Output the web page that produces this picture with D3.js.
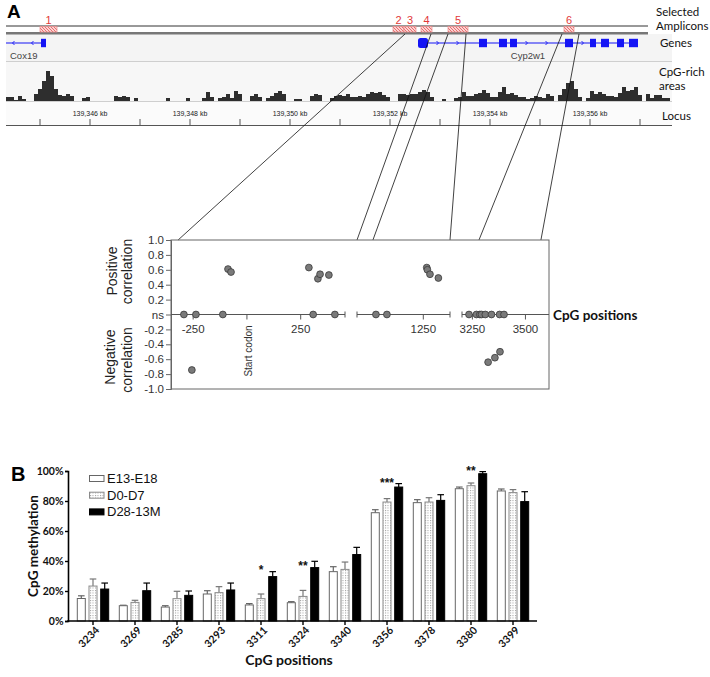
<!DOCTYPE html>
<html><head><meta charset="utf-8">
<script src="https://cdn.jsdelivr.net/npm/d3@7"></script>
<style>
body{margin:0;background:#fff}
svg{display:block;font-family:"Liberation Sans",Arial,sans-serif}
</style>
</head><body>
<svg id="c" width="710" height="677"></svg>
<script>
// ================= DATA =================
// Panel A – genome browser (positions in kb)
const locusTicksKb = [139345,139346,139347,139348,139349,139350,139351,139352,139353,139354,139355,139356,139357];
const locusLabelKb = [139346,139348,139350,139352,139354,139356];
const ampliconIds = ["1","2","3","4","5","6"];
const ampliconStart = [139345.00,139352.06,139352.28,139352.62,139353.16,139355.48];
const ampliconEnd   = [139345.34,139352.28,139352.52,139352.84,139353.56,139355.68];
const cox19Span = [139344.32,139345.04];
const cox19Exons = [[139345.02,139345.12]];
const cox19Arrows = [139344.46,139344.84];
const cyp2w1Span = [139352.56,139356.96];
const cyp2w1FirstExon = [139352.56,139352.76];
const cyp2w1Exons = [[139353.78,139353.94],[139354.18,139354.34],[139354.40,139354.54],[139355.50,139355.66],
                     [139356.00,139356.12],[139356.22,139356.38],[139356.54,139356.68],[139356.78,139356.96]];
const cyp2w1Arrows = [139352.96,139353.36,139354.74,139355.14,139355.86];
const cpgBinStartKb = 139344.32, cpgBinWidthKb = 0.08;
const cpgDensity = [4,4,1,5,2,0,0,7,12,20,30,25,12,6,5,7,5,0,0,3,4,0,0,0,0,0,0,5,4,5,4,0,3,0,
  0,0,0,0,0,0,3,0,0,0,0,3,0,0,0,3,9,4,0,3,4,7,3,10,7,0,0,5,7,4,0,3,5,8,10,7,0,0,2,2,0,0,
  5,7,6,0,0,3,5,6,5,7,4,4,5,4,7,9,8,9,6,4,0,0,7,7,6,7,7,9,11,9,4,0,0,2,0,0,3,4,9,5,5,7,8,
  11,8,4,4,9,14,7,8,6,4,4,2,3,5,4,3,7,5,0,6,12,18,20,12,4,0,3,10,7,9,7,5,5,4,8,14,10,11,14,
  6,0,7,3,6,6,3,3];
// links: genome position (kb) -> CpG position in the correlation plot
const linkKb  = [139352.30,139352.82,139353.16,139353.52,139355.44,139355.78];
const linkPos = [-320,942,1016,1374,3281,3573];

// Correlation plot
const corrTicks = [-1,-0.8,-0.6,-0.4,-0.2,0,0.2,0.4,0.6,0.8,1];
const segDomains = [[-353,456],[942,1374],[3201,3611]];
const segTicks = [[-250,0,250],[1250],[3250,3500]];
const segTickLabels = [["-250","","250"],["1250"],["3250","3500"]];
const corrPos = [-293,-237,-112,308,409,-88,-74,288,330,340,381,-256,
                 1030,1081,1266,1269,1281,1320,
                 3234,3269,3285,3293,3311,3324,3340,3356,3378,3380,3399];
const corrVal = [0,0,0,0,0,0.61,0.57,0.63,0.48,0.54,0.53,-0.745,
                 0,0,0.63,0.60,0.54,0.49,
                 0,0,0,0,0,-0.64,0,-0.58,0,-0.50,0];

// Panel B – methylation bars
const cpgSites = ["3234","3269","3285","3293","3311","3324","3340","3356","3378","3380","3399"];
const seriesNames = ["E13-E18","D0-D7","D28-13M"];
const e13Mean = [15,10.2,9.3,18,10.7,12.2,32.9,72.2,78.9,88.2,86.7];
const e13Err  = [1.8,0.3,0.9,2.2,0.9,0.7,3.3,2.0,2.0,1.1,1.3];
const d0Mean  = [23.3,12.4,14.9,18.9,14.9,16.4,34.4,79.3,79.3,90.2,85.6];
const d0Err   = [4.7,1.4,4.9,4.0,3.1,4.0,4.9,2.3,2.9,1.8,2.0];
const d28Mean = [21.3,20.2,17.1,20.7,29.6,35.6,44.3,89.3,80.4,98.2,79.6];
const d28Err  = [4.0,5.1,2.9,4.6,3.3,4.2,4.8,2.3,3.8,1.4,6.6];
const methTicks = [0,20,40,60,80,100];
const starLabels = ["","","","","*","**","","***","","**",""];
const starLevel  = [0,0,0,0,36,38.7,0,94,0,102,0];

// ================= DRAW =================
const svg = d3.select("#c");
const defs = svg.append("defs");
const hatch = defs.append("pattern").attr("id","hatch").attr("patternUnits","userSpaceOnUse")
  .attr("width",3).attr("height",3);
hatch.append("rect").attr("width",3).attr("height",3).attr("fill","#fbd3d3");
hatch.append("path").attr("d","M0,0L3,3M-1,2L1,4M2,-1L4,1").attr("stroke","#e25555").attr("stroke-width",0.8);
const dots = defs.append("pattern").attr("id","dots").attr("patternUnits","userSpaceOnUse")
  .attr("width",2.5).attr("height",2.5);
dots.append("rect").attr("width",2.5).attr("height",2.5).attr("fill","#fff");
dots.append("rect").attr("width",1).attr("height",1).attr("fill","#9a9a9a");

// ---- Panel A
const gx = d3.scaleLinear().domain([139344.32,139357.64]).range([6,672]);
svg.append("text").attr("x",7).attr("y",18).attr("font-size",19).attr("font-weight","bold").text("A");

svg.append("rect").attr("x",6).attr("y",34).attr("width",666).attr("height",27.5).attr("fill","#f4f4f4");
svg.append("rect").attr("x",6).attr("y",62).attr("width",666).attr("height",39.5).attr("fill","#f7f7f7");
svg.append("rect").attr("x",6).attr("y",102).attr("width",666).attr("height",24).attr("fill","#fbfbfb");
svg.append("line").attr("x1",6).attr("x2",672).attr("y1",61.5).attr("y2",61.5).attr("stroke","#cfcfcf");
svg.append("line").attr("x1",6).attr("x2",672).attr("y1",101.5).attr("y2",101.5).attr("stroke","#cfcfcf");

svg.append("line").attr("x1",6).attr("x2",gx(139357.16)).attr("y1",26).attr("y2",26).attr("stroke","#333").attr("stroke-width",1);
svg.append("line").attr("x1",6).attr("x2",gx(139357.16)).attr("y1",33.2).attr("y2",33.2).attr("stroke","#777").attr("stroke-width",2.6);

const amp = svg.append("g");
ampliconIds.forEach((id,i)=>{
  amp.append("rect").attr("x",gx(ampliconStart[i])).attr("y",26.5)
    .attr("width",gx(ampliconEnd[i])-gx(ampliconStart[i])).attr("height",5.5)
    .attr("fill","url(#hatch)").attr("stroke","#ec8a8a").attr("stroke-width",0.7);
  amp.append("text").attr("x",(gx(ampliconStart[i])+gx(ampliconEnd[i]))/2).attr("y",23.5)
    .attr("text-anchor","middle").attr("font-size",11).attr("fill","#e23a3a").text(id);
});

const blue = "#1515f5";
const genes = svg.append("g");
function geneLine(span, arrows, dir){
  genes.append("line").attr("x1",gx(span[0])).attr("x2",gx(span[1])).attr("y1",43).attr("y2",43)
    .attr("stroke",blue).attr("stroke-width",1);
  arrows.forEach(k=>{
    const x = gx(k);
    genes.append("path").attr("d", dir>0 ? `M${x-1.5},41L${x+0.5},43L${x-1.5},45` : `M${x+1.5},41L${x-0.5},43L${x+1.5},45`)
      .attr("fill","none").attr("stroke",blue).attr("stroke-width",0.9);
  });
}
geneLine(cox19Span, cox19Arrows, -1);
geneLine(cyp2w1Span, cyp2w1Arrows, 1);
cox19Exons.concat(cyp2w1Exons).forEach(e=>{
  genes.append("rect").attr("x",gx(e[0])).attr("y",38.8).attr("width",gx(e[1])-gx(e[0])).attr("height",8.4).attr("fill",blue);
});
genes.append("rect").attr("x",gx(cyp2w1FirstExon[0])).attr("y",38).attr("width",gx(cyp2w1FirstExon[1])-gx(cyp2w1FirstExon[0]))
  .attr("height",10).attr("rx",2.5).attr("fill",blue);
genes.append("text").attr("x",10).attr("y",58.5).attr("font-size",9.5).attr("fill","#444").text("Cox19");
genes.append("text").attr("x",gx(139354.76)).attr("y",58.5).attr("text-anchor","middle").attr("font-size",9.5).attr("fill","#444").text("Cyp2w1");

const yc = d3.scaleLinear().domain([0,35]).range([101,66]);
const cpgData = cpgDensity.map((v,i)=>({kb:cpgBinStartKb+i*cpgBinWidthKb, v}));
cpgData.push({kb:cpgBinStartKb+cpgDensity.length*cpgBinWidthKb, v:0});
svg.append("path").datum(cpgData)
  .attr("d", d3.area().x(d=>gx(d.kb)).y0(yc(0)).y1(d=>yc(d.v)).curve(d3.curveStepAfter))
  .attr("fill","#2e2e2e");

const loc = svg.append("g");
loc.append("line").attr("x1",6).attr("x2",672).attr("y1",125.5).attr("y2",125.5).attr("stroke","#555");
locusTicksKb.forEach(k=>{
  loc.append("line").attr("x1",gx(k)).attr("x2",gx(k)).attr("y1",119).attr("y2",125.5).attr("stroke","#555");
});
locusLabelKb.forEach(k=>{
  loc.append("text").attr("x",gx(k)).attr("y",116).attr("text-anchor","middle").attr("font-size",7)
    .attr("fill","#222").text(d3.format(",")(k)+" kb");
});

const rl = svg.append("g").attr("font-family","Lato, 'Open Sans', sans-serif").attr("font-size",11.5).attr("fill","#111");
[["Selected",656,16],["Amplicons",656,30],["Genes",660,47],["CpG-rich",659,76],["areas",659,90],["Locus",662,120]]
  .forEach(t=>rl.append("text").attr("x",t[1]).attr("y",t[2]).text(t[0]));

// ---- Correlation plot
const ys = d3.scaleLinear().domain([-1,1]).range([389,240]);
const segRanges = [[171,345],[357,450],[462,549]];
const segScales = segDomains.map((d,i)=>d3.scaleLinear().domain(d).range(segRanges[i]));
function sx(p){
  for(let i=0;i<segDomains.length;i++){ if(p>=segDomains[i][0]-1 && p<=segDomains[i][1]+1) return segScales[i](p); }
  return segScales[0](p);
}
// links
const links = svg.append("g");
linkKb.forEach((k,i)=>{
  links.append("line").attr("x1",gx(k)).attr("y1",34).attr("x2",sx(linkPos[i])).attr("y2",240)
    .attr("stroke","#111").attr("stroke-width",0.8);
});

svg.append("rect").attr("x",171).attr("y",240).attr("width",378).attr("height",149)
  .attr("fill","none").attr("stroke","#666").attr("stroke-width",1);
const yAxis = svg.append("g").attr("transform","translate(171,0)")
  .call(d3.axisLeft(ys).tickValues(corrTicks).tickSize(5).tickPadding(2)
    .tickFormat(d=>Math.abs(d)<1e-9 ? "ns" : d.toFixed(1)));
yAxis.select(".domain").attr("stroke","#666");
yAxis.selectAll(".tick line").attr("stroke","#666");
yAxis.selectAll("text").attr("font-size",11.5).attr("fill","#333").attr("font-family","'Liberation Sans',Arial,sans-serif");

const y0 = ys(0);
const xa = svg.append("g").attr("stroke","#555").attr("stroke-width",1);
segScales.forEach((s,i)=>{
  const r = s.range();
  xa.append("line").attr("x1",r[0]).attr("x2",r[1]).attr("y1",y0).attr("y2",y0);
  if(i>0) xa.append("line").attr("x1",r[0]).attr("x2",r[0]).attr("y1",y0-3).attr("y2",y0+3);
  if(i<segScales.length-1) xa.append("line").attr("x1",r[1]).attr("x2",r[1]).attr("y1",y0-3).attr("y2",y0+3);
  segTicks[i].forEach((t,j)=>{
    xa.append("line").attr("x1",s(t)).attr("x2",s(t)).attr("y1",y0).attr("y2",y0+5);
    if(segTickLabels[i][j]) svg.append("text").attr("x",s(t)).attr("y",333).attr("text-anchor","middle")
      .attr("font-size",11.5).attr("fill","#333").text(segTickLabels[i][j]);
  });
});
svg.append("text").attr("transform",`translate(252,351) rotate(-90)`).attr("text-anchor","middle")
  .attr("font-size",10).attr("fill","#333").text("Start codon");

svg.append("g").selectAll("circle").data(corrPos.map((p,i)=>({p,v:corrVal[i]}))).join("circle")
  .attr("cx",d=>sx(d.p)).attr("cy",d=>ys(d.v)).attr("r",3.4)
  .attr("fill","#7a7a7a").attr("stroke","#3a3a3a").attr("stroke-width",0.8);

const yt = svg.append("g").attr("font-size",14).attr("fill","#222");
yt.append("text").attr("transform","translate(116.5,271) rotate(-90)").attr("text-anchor","middle").text("Positive");
yt.append("text").attr("transform","translate(132,271.5) rotate(-90)").attr("text-anchor","middle").text("correlation");
yt.append("text").attr("transform","translate(114.5,357) rotate(-90)").attr("text-anchor","middle").text("Negative");
yt.append("text").attr("transform","translate(132,360) rotate(-90)").attr("text-anchor","middle").text("correlation");
svg.append("text").attr("x",553).attr("y",320).attr("font-family","Lato, sans-serif").attr("font-weight","bold")
  .attr("font-size",13.5).attr("fill","#111").text("CpG positions");

// ---- Panel B
svg.append("text").attr("x",11).attr("y",481).attr("font-size",20).attr("font-weight","bold").text("B");
const yb = d3.scaleLinear().domain([0,100]).range([621,471]);
const xb = d3.scalePoint().domain(cpgSites).range([93,513]);
const means = [e13Mean,d0Mean,d28Mean], errs = [e13Err,d0Err,d28Err];
const offs = [-11.7,0,11.7], bw = 8;
const fills = ["#fff","url(#dots)","#000"], strokes = ["#666","#8a8a8a","#000"], errCol = ["#666","#777","#000"];
const bars = svg.append("g");
means.forEach((m,s)=>{
  cpgSites.forEach((c,i)=>{
    const cx = xb(c)+offs[s];
    const top = yb(m[i]), et = yb(m[i]+errs[s][i]);
    bars.append("line").attr("x1",cx).attr("x2",cx).attr("y1",top).attr("y2",et).attr("stroke",errCol[s]).attr("stroke-width",1.2);
    bars.append("line").attr("x1",cx-3.3).attr("x2",cx+3.3).attr("y1",et).attr("y2",et).attr("stroke",errCol[s]).attr("stroke-width",1.2);
    bars.append("rect").attr("x",cx-bw/2).attr("y",top).attr("width",bw).attr("height",yb(0)-top)
      .attr("fill",fills[s]).attr("stroke",strokes[s]).attr("stroke-width",1);
  });
});
cpgSites.forEach((c,i)=>{
  if(starLabels[i]) svg.append("text").attr("x",xb(c)).attr("y",yb(starLevel[i])+7).attr("text-anchor","middle")
    .attr("font-size",12).attr("font-weight","bold").attr("fill","#111").text(starLabels[i]);
});
const yAx = svg.append("g").attr("transform","translate(68,0)")
  .call(d3.axisLeft(yb).tickValues(methTicks).tickSize(3).tickPadding(1.5).tickFormat(d=>d+"%"));
yAx.select(".domain").attr("stroke","#000").attr("stroke-width",1.6);
yAx.selectAll(".tick line").attr("stroke","#000").attr("stroke-width",1.4);
yAx.selectAll("text").attr("font-family","Lato, sans-serif").attr("font-weight","bold").attr("font-size",10.5).attr("fill","#111");
svg.append("line").attr("x1",67.2).attr("x2",537).attr("y1",621).attr("y2",621).attr("stroke","#000").attr("stroke-width",1.6);
cpgSites.forEach(c=>{
  svg.append("line").attr("x1",xb(c)).attr("x2",xb(c)).attr("y1",621).attr("y2",625).attr("stroke","#000").attr("stroke-width",1.4);
  svg.append("text").attr("transform",`translate(${xb(c)+7},631) rotate(-45)`).attr("text-anchor","end")
    .attr("font-family","Lato, sans-serif").attr("font-weight","bold").attr("font-size",10.5).attr("fill","#111").text(c);
});
svg.append("text").attr("transform","translate(38,546) rotate(-90)").attr("text-anchor","middle")
  .attr("font-family","Lato, sans-serif").attr("font-weight","bold").attr("font-size",13.5).attr("fill","#111").text("CpG methylation");
svg.append("text").attr("x",289).attr("y",665).attr("text-anchor","middle")
  .attr("font-family","Lato, sans-serif").attr("font-weight","bold").attr("font-size",14).attr("fill","#111").text("CpG positions");

const lg = svg.append("g");
seriesNames.forEach((n,i)=>{
  const by = 483 + i*16.7;
  lg.append("rect").attr("x",89.5).attr("y",by-7.5).attr("width",14.5).attr("height",6)
    .attr("fill",fills[i]).attr("stroke",strokes[i]).attr("stroke-width",1);
  lg.append("text").attr("x",107).attr("y",by).attr("font-size",13).attr("fill","#111").text(n);
});
</script>
</body></html>
